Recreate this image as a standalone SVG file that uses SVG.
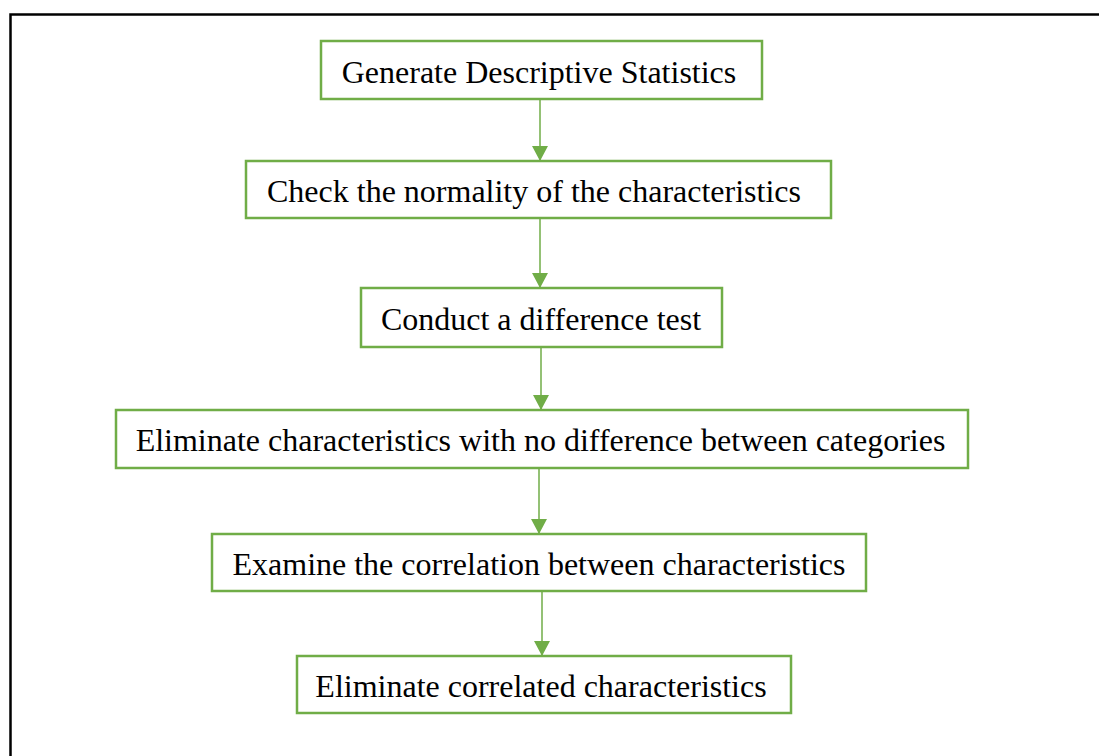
<svg xmlns="http://www.w3.org/2000/svg" width="1099" height="756" viewBox="0 0 1099 756">
<style>
.box{fill:#fff;stroke:#70AD47;stroke-width:2.5}
.lbl{font-family:"Liberation Serif","Times New Roman",serif;font-size:32px;fill:#000;text-anchor:middle}
.conn{stroke:#70AD47;stroke-width:1.5;fill:none;marker-end:url(#ah)}
</style>
<defs>
<marker id="ah" markerUnits="userSpaceOnUse" markerWidth="16" markerHeight="16" viewBox="0 0 16 16" refX="15" refY="8" orient="auto">
<path d="M0,0 L15,8 L0,16 Z" fill="#70AD47"/>
</marker>
</defs>
<rect x="10.5" y="14.5" width="1100" height="760" fill="#fff" stroke="#000" stroke-width="2.5"/>
<g id="connectors">
<line class="conn" x1="540" y1="99" x2="540" y2="161"/>
<line class="conn" x1="540" y1="218" x2="540" y2="288"/>
<line class="conn" x1="541" y1="347" x2="541" y2="410"/>
<line class="conn" x1="539" y1="468" x2="539" y2="534"/>
<line class="conn" x1="542" y1="591" x2="542" y2="656"/>
</g>
<g id="n1"><rect class="box" x="321" y="41" width="441" height="58"/><text class="lbl" x="539" y="82.5">Generate Descriptive Statistics</text></g>
<g id="n2"><rect class="box" x="246" y="161" width="585" height="57"/><text class="lbl" x="534" y="201.5">Check the normality of the characteristics</text></g>
<g id="n3"><rect class="box" x="361" y="288" width="361" height="59"/><text class="lbl" x="541" y="330">Conduct a difference test</text></g>
<g id="n4"><rect class="box" x="116" y="410" width="852" height="58"/><text class="lbl" x="540.5" y="451">Eliminate characteristics with no difference between categories</text></g>
<g id="n5"><rect class="box" x="212" y="534" width="654" height="57"/><text class="lbl" x="539" y="574.5">Examine the correlation between characteristics</text></g>
<g id="n6"><rect class="box" x="297" y="656" width="494" height="57"/><text class="lbl" x="541" y="696.5">Eliminate correlated characteristics</text></g>
</svg>
